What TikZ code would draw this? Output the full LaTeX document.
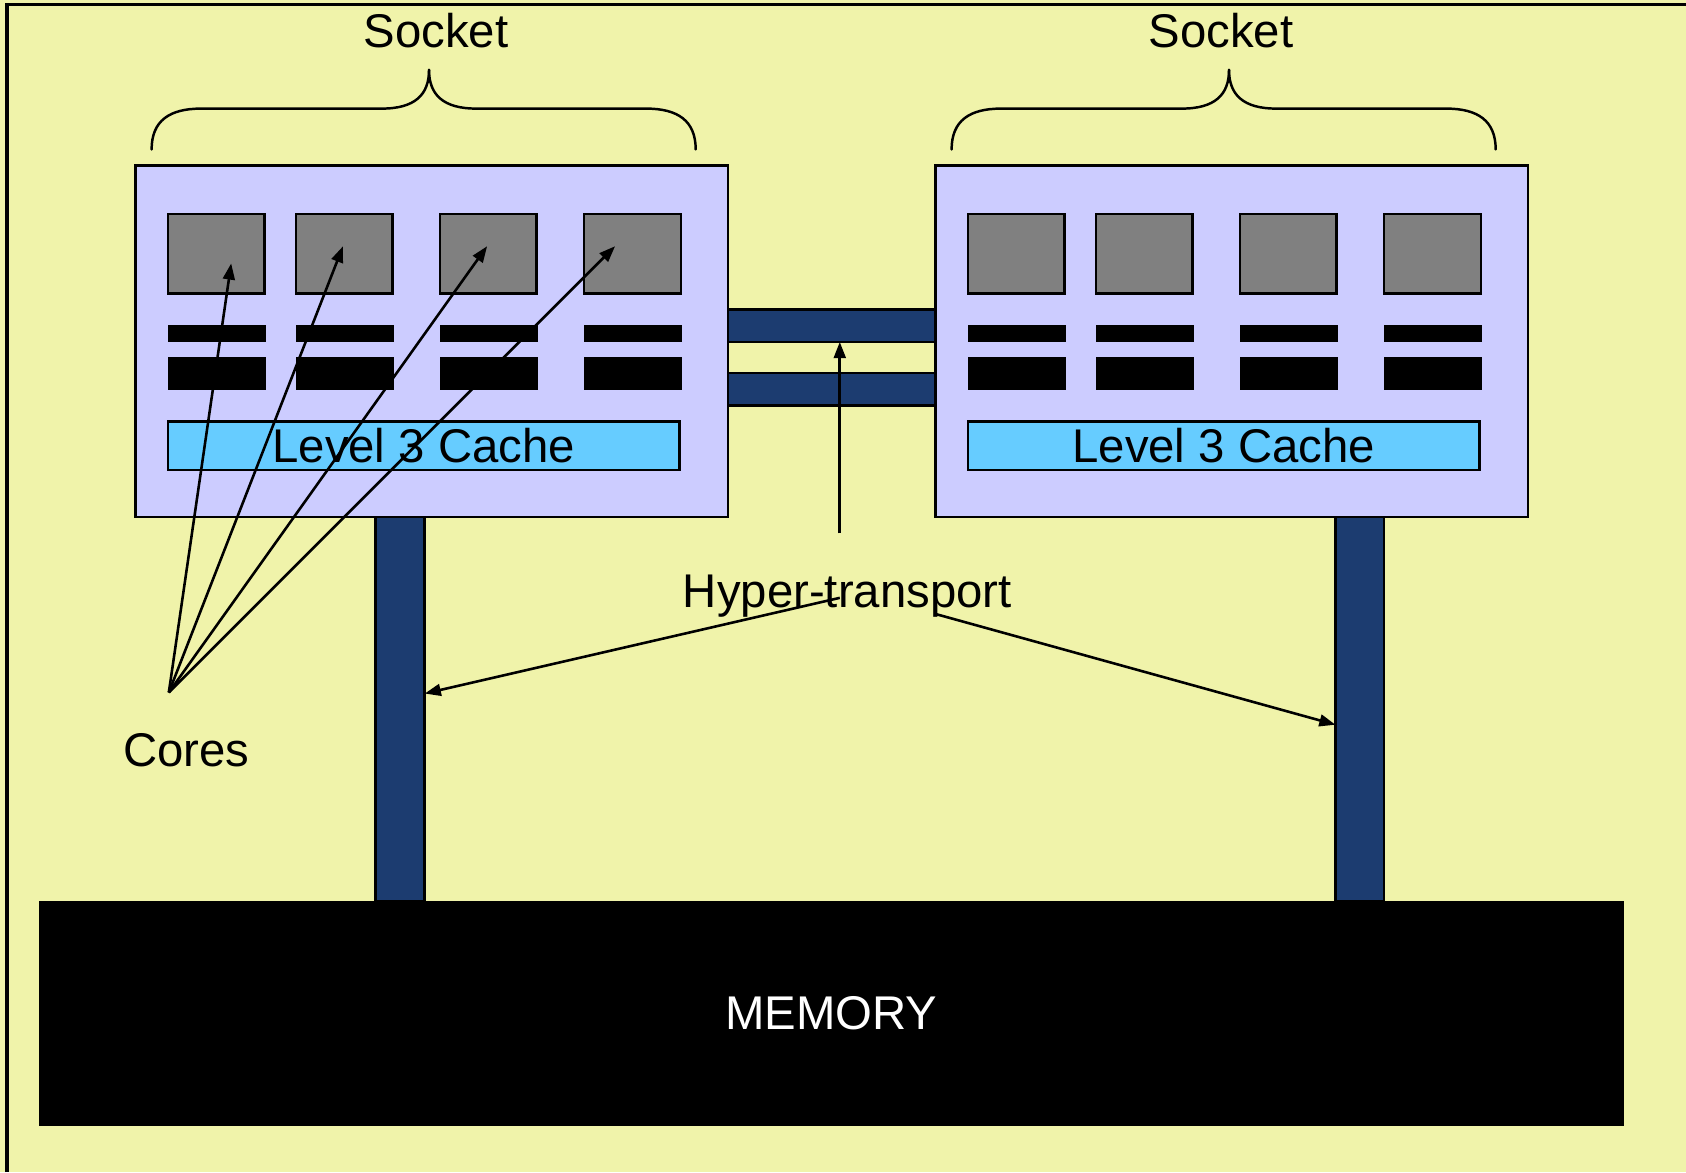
\documentclass[tikz,border=0pt]{standalone}
\usepackage{fontspec}
\setmainfont{Liberation Sans}
\usetikzlibrary{arrows.meta}
\definecolor{bgyellow}{RGB}{240,243,170}
\definecolor{socketfill}{RGB}{204,204,255}
\definecolor{corefill}{RGB}{128,128,128}
\definecolor{cachefill}{RGB}{102,204,255}
\definecolor{linkblue}{RGB}{28,60,112}
\tikzset{
  box/.style={draw=black, line width=2.4pt, inner sep=0pt, outer sep=0pt, anchor=north west},
  socketbox/.style={box, fill=socketfill, minimum width=551, minimum height=327},
  corebox/.style={box, line width=2pt, fill=corefill, minimum width=90, minimum height=74},
  thinbar/.style={fill=black, inner sep=0pt, outer sep=0pt, anchor=north west, minimum width=91, minimum height=16},
  thickbar/.style={fill=black, inner sep=0pt, outer sep=0pt, anchor=north west, minimum width=91, minimum height=31},
  cachebox/.style={box, line width=2pt, fill=cachefill, minimum width=476, minimum height=45},
  linkbar/.style={box, fill=linkblue},
  label/.style={font=\fontsize{44}{50}\selectfont, inner sep=0pt, anchor=base},
  brace/.style={line width=2.3pt, line cap=round},
  pointer/.style={line width=2.4pt, -{Triangle[length=15pt,width=11pt]}}
}
\begin{document}
\begin{tikzpicture}[x=1pt,y=-1pt]
\useasboundingbox (0,0) rectangle (1568,1090);
\fill[bgyellow] (0,0) rectangle (1568,1090);
\draw[line width=3pt] (6.5,1090) -- (6.5,4.5) -- (1568,4.5);

% curly braces over the two sockets
\foreach \dx in {0,744} {
  \begin{scope}[xshift=\dx pt]
    \draw[brace] (141,139) .. controls (141,112) and (158,101) .. (187,101)
      -- (355,101) .. controls (386,101) and (399,88) .. (399,65);
    \draw[brace] (399,65) .. controls (399,88) and (412,101) .. (443,101)
      -- (601,101) .. controls (630,101) and (647,112) .. (647,139);
  \end{scope}
}
\node[label] (sockname1) at (405.5,44) {Socket};
\node[label] (sockname2) at (1135.5,44) {Socket};

% links between the sockets and down to memory
\node[linkbar, minimum width=193, minimum height=30] (ht1) at (677,288) {};
\node[linkbar, minimum width=193, minimum height=30] (ht2) at (677,347) {};
\node[linkbar, minimum width=46, minimum height=357] (bus1) at (349,481) {};
\node[linkbar, minimum width=45, minimum height=357] (bus2) at (1242,481) {};

% the two sockets: four cores, two cache rows each, shared L3
\foreach \s/\dx in {1/0, 2/744} {
  \begin{scope}[xshift=\dx pt]
    \node[socketbox] (sock\s) at (126,154) {};
    \foreach \c/\cx in {1/156, 2/275, 3/409, 4/543} {
      \node[corebox] (core\s-\c) at (\cx,199) {};
      \node[thinbar] (lone\s-\c) at (\cx,302) {};
      \node[thickbar] (ltwo\s-\c) at (\cx,332) {};
    }
    \node[cachebox, font=\fontsize{44}{50}\selectfont] (cache\s) at (156,392) {Level 3 Cache};
  \end{scope}
}

% main memory
\node[fill=black, inner sep=0pt, outer sep=0pt, anchor=north west,
      minimum width=1474, minimum height=209, text=white,
      font=\fontsize{44}{50}\selectfont] (memory) at (36,838) {MEMORY};

% annotations
\node[label] (coreslabel) at (173.5,713) {Cores};
\node[label] (htlabel) at (788,565) {Hyper-transport};

\coordinate (fan) at (157,644);
\coordinate (tip1) at (215,245);
\coordinate (tip2) at (319,229);
\coordinate (tip3) at (453,229);
\coordinate (tip4) at (572,229);
\foreach \t in {1,...,4} \draw[pointer] (fan) -- (tip\t);

\coordinate (htstem) at (781,496);
\coordinate (htup) at (781,318);
\draw[pointer] (htstem) -- (htup);

\coordinate (htleft) at (781,556);
\coordinate (htright) at (870,571);
\draw[pointer] (htleft) -- (bus1.east |- 0,645);
\draw[pointer] (htright) -- (bus2.west |- 0,674);
\end{tikzpicture}
\end{document}
